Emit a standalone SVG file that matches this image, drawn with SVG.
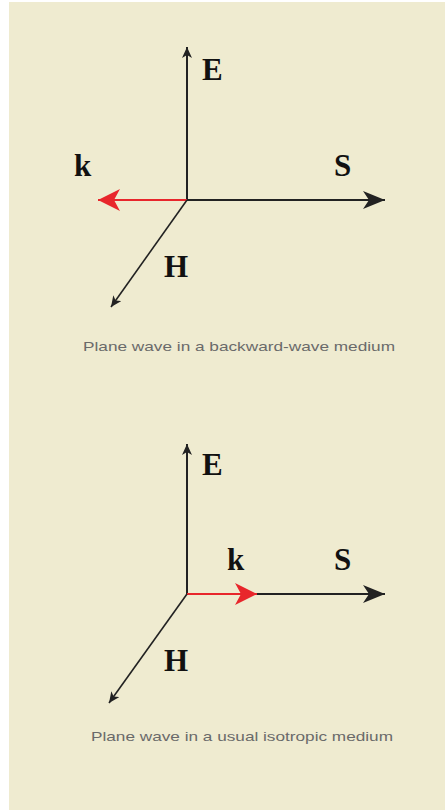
<svg xmlns="http://www.w3.org/2000/svg" width="445" height="810" viewBox="0 0 445 810">
<style>
.ax{stroke:#222;stroke-width:2;fill:none}
.red{stroke:#e8262b;stroke-width:2;fill:none}
.lbl{font-family:"Liberation Serif","Times New Roman",serif;font-weight:bold;font-size:31px;fill:#111}
.cap{font-family:"Liberation Sans","Arial",sans-serif;font-size:13px;fill:#6a6a6a}
</style>
<defs>
<marker id="big" markerUnits="userSpaceOnUse" markerWidth="24" markerHeight="20" refX="22" refY="10" orient="auto"><path d="M0,1 L22,10 L0,19 L6,10 Z" fill="#222"/></marker>
<marker id="bigred" markerUnits="userSpaceOnUse" markerWidth="24" markerHeight="24" refX="22" refY="12" orient="auto"><path d="M0,1 L22,12 L0,23 L6,12 Z" fill="#e8262b"/></marker>
<marker id="small" markerUnits="userSpaceOnUse" markerWidth="12" markerHeight="10" refX="11" refY="5" orient="auto"><path d="M0,0 L11,5 L0,10 L3,5 Z" fill="#222"/></marker>
</defs>
<rect x="0" y="0" width="445" height="810" fill="#ffffff"/>
<rect x="9" y="2" width="436" height="808" fill="#efebd0"/>
<g id="connectors">
<line class="ax" x1="187" y1="200" x2="187" y2="47" marker-end="url(#small)"/>
<line class="ax" x1="187" y1="200" x2="385" y2="200" marker-end="url(#big)"/>
<line class="red" x1="187" y1="200" x2="98" y2="200" marker-end="url(#bigred)"/>
<line class="ax" style="stroke-width:1.6" x1="187" y1="200" x2="111" y2="307" marker-end="url(#small)"/>
<line class="ax" x1="187" y1="594" x2="187" y2="444" marker-end="url(#small)"/>
<line class="ax" x1="187" y1="594" x2="385" y2="594" marker-end="url(#big)"/>
<line class="red" x1="187" y1="594" x2="257" y2="594" marker-end="url(#bigred)"/>
<line class="ax" style="stroke-width:1.6" x1="187" y1="594" x2="109" y2="703" marker-end="url(#small)"/>
</g>
<g id="top-E"><text class="lbl" x="202" y="80">E</text></g>
<g id="top-k"><text class="lbl" x="74" y="176">k</text></g>
<g id="top-S"><text class="lbl" x="334" y="176">S</text></g>
<g id="top-H"><text class="lbl" x="164" y="277">H</text></g>
<g id="top-caption"><text class="cap" x="83" y="351" textLength="312" lengthAdjust="spacingAndGlyphs">Plane wave in a backward-wave medium</text></g>
<g id="bot-E"><text class="lbl" x="202" y="475">E</text></g>
<g id="bot-k"><text class="lbl" x="227" y="570">k</text></g>
<g id="bot-S"><text class="lbl" x="334" y="570">S</text></g>
<g id="bot-H"><text class="lbl" x="164" y="671">H</text></g>
<g id="bot-caption"><text class="cap" x="91" y="741" textLength="302" lengthAdjust="spacingAndGlyphs">Plane wave in a usual isotropic medium</text></g>
</svg>
